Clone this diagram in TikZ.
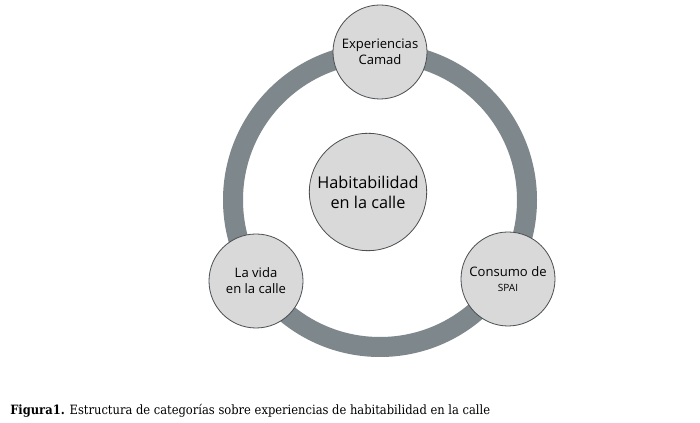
\documentclass[tikz,border=0pt]{standalone}
\usepackage{fontspec}
\setmainfont{Open Sans}
\newfontfamily\capfont{DejaVu Serif Condensed}
\definecolor{ringgray}{HTML}{7E878B}
\definecolor{nodefill}{HTML}{D9D9D9}
\definecolor{nodeline}{HTML}{4A4F52}
\begin{document}
\begin{tikzpicture}[x=0.75pt,y=-0.75pt,
  catnode/.style={circle,draw=nodeline,line width=0.6pt,fill=nodefill,minimum size=70.5pt,inner sep=0pt,align=center,font=\fontsize{9.8}{12}\selectfont},
  mainnode/.style={catnode,minimum size=88pt,font=\fontsize{12.2}{15}\selectfont}]
\useasboundingbox (0,0) rectangle (700,423);
\fill[white] (0,0) rectangle (700,423);
\coordinate (c) at (380,200);
\draw[ringgray,line width=15pt] (c) circle (110.25pt);
\node[mainnode] (hab) at (368,192) {Habitabilidad\\en la calle};
\node[catnode] (exp) at (380,52) {Experiencias\\Camad};
\node[catnode] (con) at (508,279) {Consumo de\\[-1pt]{\fontsize{7.5}{9}\selectfont SPAI}};
\node[catnode] (vid) at (256,281) {La vida\\en la calle};
\node[anchor=west,inner sep=0pt,font=\capfont\fontsize{9.6}{12}\selectfont] (cap) at (10,411) {\textbf{Figura1.} Estructura de categorías sobre experiencias de habitabilidad en la calle};
\end{tikzpicture}
\end{document}
